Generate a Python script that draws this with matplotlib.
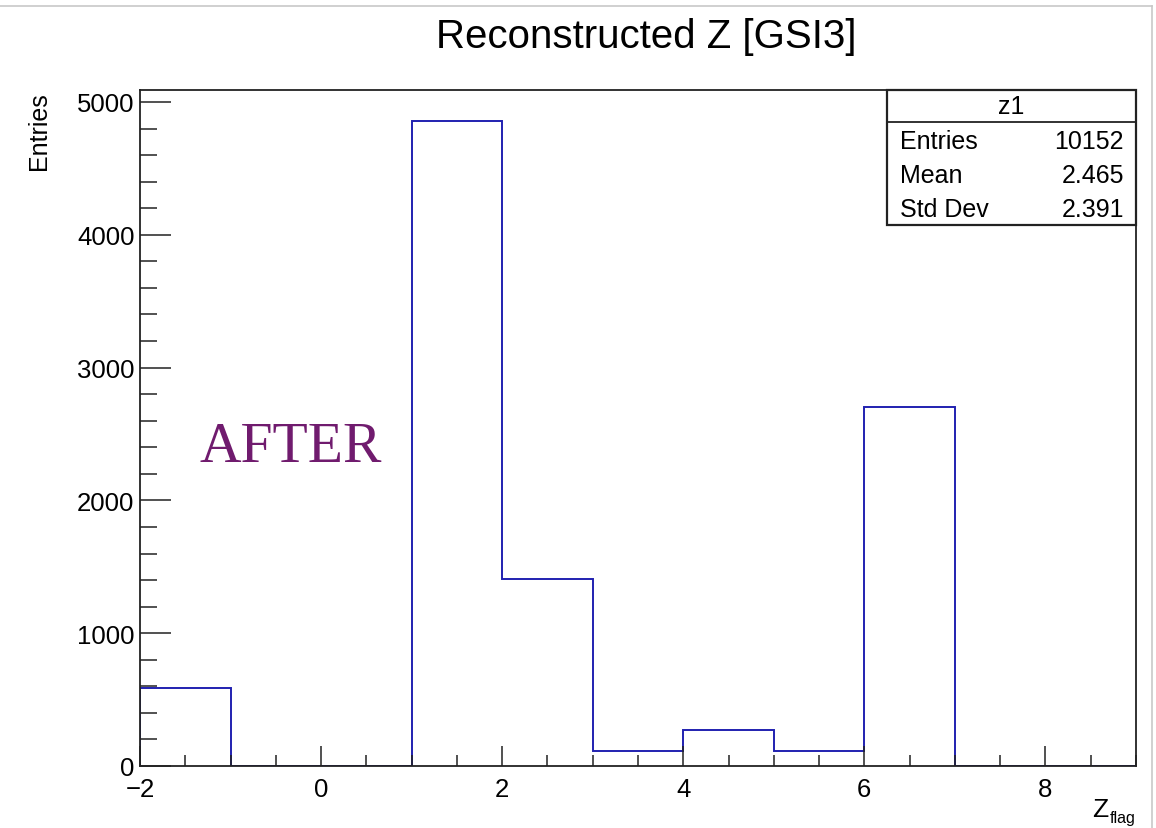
import matplotlib
matplotlib.use("Agg")
import matplotlib.pyplot as plt
from matplotlib.patches import Rectangle
from matplotlib.lines import Line2D
from matplotlib.ticker import MultipleLocator

# Histogram of reconstructed Z (bin edges and per-bin counts)
bin_edges = [-2, -1, 0, 1, 2, 3, 4, 5, 6, 7, 8, 9]
bin_counts = [586, 0, 0, 4855, 1405, 115, 274, 115, 2700, 0, 0]

title = "Reconstructed Z [GSI3]"
hist_name = "z1"
stat_labels = ["Entries", "Mean", "Std Dev"]
stat_values = ["10152", "2.465", "2.391"]

W, H = 1156, 829
FONT = "Liberation Sans"
plt.rcParams["font.family"] = [FONT, "DejaVu Sans"]

fig = plt.figure(figsize=(W / 100, H / 100), dpi=100)
fig.patch.set_facecolor("white")


def fx(px):
    return px / W


def fy(py):
    return 1 - py / H


# axes frame in pixel terms
left, right, top, bottom = 140, 1136, 91, 767
ax = fig.add_axes([fx(left), fy(bottom), fx(right - left), fy(top) - fy(bottom)])

ax.stairs(bin_counts, bin_edges, baseline=0, color="#2020b0", linewidth=1.4)

ax.set_xlim(-2, 9)
ax.set_ylim(0, 5090)

ax.xaxis.set_major_locator(MultipleLocator(2))
ax.xaxis.set_minor_locator(MultipleLocator(0.5))
ax.yaxis.set_major_locator(MultipleLocator(1000))
ax.yaxis.set_minor_locator(MultipleLocator(200))

for s in ax.spines.values():
    s.set_linewidth(1.3)
    s.set_color("#222222")

ax.tick_params(axis="x", which="major", direction="in", length=14.5, width=1.1,
               labelsize=18.5, pad=8, colors="#222222", labelcolor="#000000")
ax.tick_params(axis="x", which="minor", direction="in", length=8, width=1.1,
               colors="#222222")
ax.tick_params(axis="y", which="major", direction="in", length=22, width=1.1,
               labelsize=18.5, pad=4, colors="#222222", labelcolor="#000000")
ax.tick_params(axis="y", which="minor", direction="in", length=12, width=1.1,
               colors="#222222")
ax.tick_params(top=False, right=False, which="both")

# title
fig.text(fx(646), fy(37), title, fontsize=29, ha="center", va="center",
         color="#000000")

# y-axis label
fig.text(fx(39), fy(131), "Entries", fontsize=18, rotation=90,
         ha="center", va="center", color="#000000")

# x-axis label with subscript
fig.text(fx(1092), fy(817), "Z", fontsize=19, ha="left", va="baseline",
         color="#000000")
fig.text(fx(1110), fy(823), "flag", fontsize=11.5, ha="left", va="baseline",
         color="#000000")

# statistics box
bx0, bx1, by0, by1, bsep = 887, 1136, 91, 226, 123
fig.patches.append(Rectangle((fx(bx0), fy(by1)), fx(bx1 - bx0), fy(by0) - fy(by1),
                             transform=fig.transFigure, facecolor="white",
                             edgecolor="#222222", linewidth=1.6, zorder=5))
fig.lines.append(Line2D([fx(bx0), fx(bx1)], [fy(bsep), fy(bsep)],
                        transform=fig.transFigure, color="#222222",
                        linewidth=1.3, zorder=6))
fig.text(fx((bx0 + bx1) / 2), fy(107), hist_name, fontsize=18, ha="center",
         va="center", zorder=7, color="#000000")
row_y = [142, 176, 210]
for lab, val, ry in zip(stat_labels, stat_values, row_y):
    fig.text(fx(900), fy(ry), lab, fontsize=18, ha="left", va="center",
             zorder=7, color="#000000")
    fig.text(fx(1124), fy(ry), val, fontsize=18, ha="right", va="center",
             zorder=7, color="#000000")

# overlay annotation
fig.text(fx(199), fy(462), "AFTER", fontsize=41.5, ha="left", va="baseline",
         color="#701b6e", family=["Liberation Serif", "DejaVu Serif"])

# thin light frame around the canvas (top and right edges)
fig.lines.append(Line2D([0, fx(1152)], [fy(7), fy(7)], transform=fig.transFigure,
                        color="#c8c8c8", linewidth=1.2))
fig.lines.append(Line2D([fx(1152), fx(1152)], [fy(7), 0], transform=fig.transFigure,
                        color="#c8c8c8", linewidth=1.2))

fig.savefig("out.png", dpi=100, facecolor="white")
